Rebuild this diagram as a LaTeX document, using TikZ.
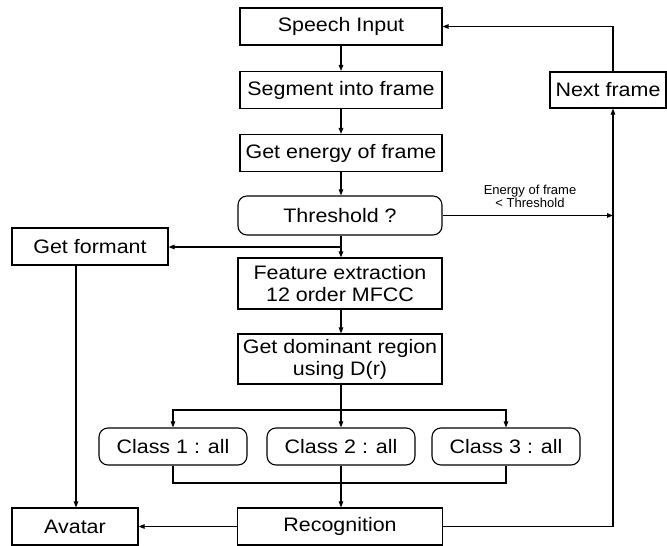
\documentclass[tikz,border=0pt]{standalone}
\usepackage{fontspec}
\setmainfont{Liberation Sans}[FakeStretch=1.1]
\newfontfamily\labelfont{Liberation Sans}
\usetikzlibrary{arrows.meta,positioning,calc}

\begin{document}
\begin{tikzpicture}[x=1pt,y=-1pt,
    procbox/.style={draw,line width=1.1pt,minimum height=37pt,inner sep=1pt,
      font=\fontsize{19.5}{22}\selectfont,align=center},
    roundbox/.style={procbox,rounded corners=9pt},
    flowarrow/.style={-{Triangle[length=6pt,width=4.5pt]},line width=1.1pt},
    flowline/.style={line width=1.1pt}]
  \useasboundingbox (0,0) rectangle (667,546);
  % Main column
  \node[procbox,minimum width=202pt] (speech) at (341,26.5) {Speech Input};
  \node[procbox,minimum width=202pt] (segment) at (341,90) {Segment into frame};
  \node[procbox,minimum width=202pt] (energy) at (341,153) {Get energy of frame};
  \node[roundbox,minimum width=204pt,minimum height=39pt] (thresh) at (340,215.5) {Threshold ?};
  \node[procbox,minimum width=204pt,minimum height=51pt] (feature) at (340,283.5) {Feature extraction\\12 order MFCC};
  \node[procbox,minimum width=204pt,minimum height=50pt] (dominant) at (340,359) {Get dominant region\\using D(r)};
  % Classes
  \node[roundbox,minimum width=148pt] (class1) at (173,446.5) {Class 1 : all};
  \node[roundbox,minimum width=148pt] (class2) at (341,446.5) {Class 2 : all};
  \node[roundbox,minimum width=148pt] (class3) at (506,446.5) {Class 3 : all};
  \node[procbox,minimum width=205pt] (recog) at (340,526.5) {Recognition};
  % Side boxes
  \node[procbox,minimum width=156pt] (formant) at (90,246.5) {Get formant};
  \node[procbox,minimum width=126pt] (avatar) at (75,526.5) {Avatar};
  \node[procbox,minimum width=116pt,minimum height=36pt] (next) at (608,90) {Next frame};
  \node[font=\labelfont\fontsize{13}{13.5}\selectfont,align=center] (cond) at (530,196.5) {Energy of frame\\< Threshold};
  % Helper points
  \coordinate (split) at (341,247);
  \coordinate (branch) at (341,410);
  \coordinate (merge) at (341,483);
  \coordinate (fdrop) at (76,0);
  \coordinate (loopx) at (613,0);
  % Connectors
  \draw[flowarrow] (speech) -- (segment);
  \draw[flowarrow] (segment) -- (energy);
  \draw[flowarrow] (energy.south -| split) -- (thresh.north -| split);
  \draw[flowarrow] (thresh.south -| split) -- (feature.north -| split);
  \draw[flowarrow] (split) -- (split -| formant.east);
  \draw[flowarrow] (fdrop |- formant.south) -- (fdrop |- avatar.north);
  \draw[flowarrow] (feature.south -| split) -- (dominant.north -| split);
  \draw[flowarrow] (dominant.south -| split) -- (class2);
  \draw[flowarrow] (branch) -| (class1);
  \draw[flowarrow] (branch) -| (class3);
  \draw[flowline] (class1.south) |- (merge) -| (class3.south);
  \draw[flowarrow] (class2) -- (recog.north -| class2);
  \draw[flowarrow] (recog) -- (avatar);
  \draw[flowarrow] (recog.east) -| (loopx |- next.south);
  \draw[flowarrow] (thresh.east) -- (thresh.east -| loopx);
  \draw[flowarrow] (loopx |- next.north) |- (speech.east);
\end{tikzpicture}
\end{document}
